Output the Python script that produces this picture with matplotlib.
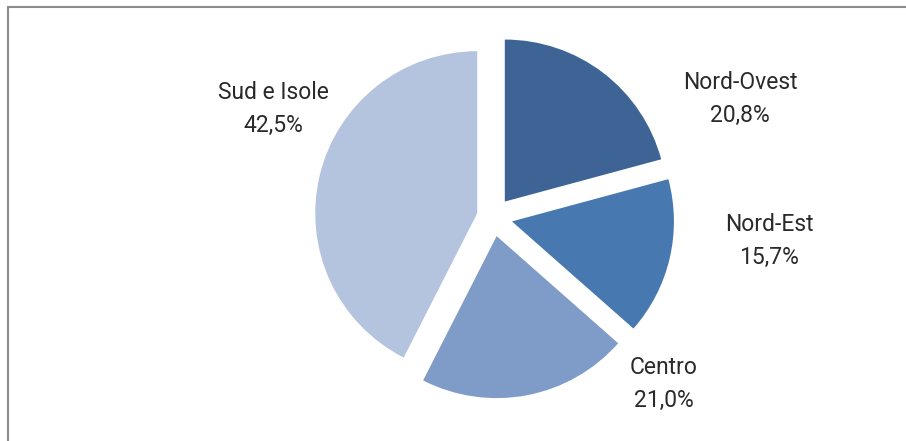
import matplotlib.pyplot as plt
from matplotlib.patches import Rectangle

# data
regions = ["Nord-Ovest", "Nord-Est", "Centro", "Sud e Isole"]
shares = [20.8, 15.7, 21.0, 42.5]
colors = ["#3E6496", "#4878B0", "#7F9CC8", "#B4C3DE"]
explode = [0.12, 0.12, 0.12, 0.1]

# label anchors (pixels from top-left of figure)
label_px = [(740, 99), (769, 241), (664, 384), (273, 109)]

W, H = 906, 441
cx, cy, r = 493, 217, 162  # pie centre / radius in pixels

plt.rcParams['font.family'] = ['Roboto', 'DejaVu Sans']

fig = plt.figure(figsize=(W / 100, H / 100), dpi=100)
ax = fig.add_axes([0, 0, 1, 1])
ax.pie(shares, colors=colors, explode=explode, startangle=90,
       counterclock=False, radius=1.0,
       wedgeprops=dict(linewidth=0))
ax.set_xlim(-cx / r, (W - cx) / r)
ax.set_ylim(-(H - cy) / r, cy / r)
ax.set_aspect('auto')
ax.axis('off')

for name, val, (px, py) in zip(regions, shares, label_px):
    x = (px - cx) / r
    y = (cy - py) / r
    txt = f"{name}\n{val:.1f}%".replace(".", ",")
    ax.text(x, y, txt, ha='center', va='center', fontsize=16.5,
            color="#2a2a2a", linespacing=1.55)

# outer frame (open on right and bottom like the source crop)
fig.patches.append(Rectangle((8 / W, -0.1), 1.2, (H - 7) / H + 0.1,
                             transform=fig.transFigure, fill=False,
                             edgecolor="#8c8c8c", linewidth=1.5))

fig.savefig("out.png", dpi=100)
